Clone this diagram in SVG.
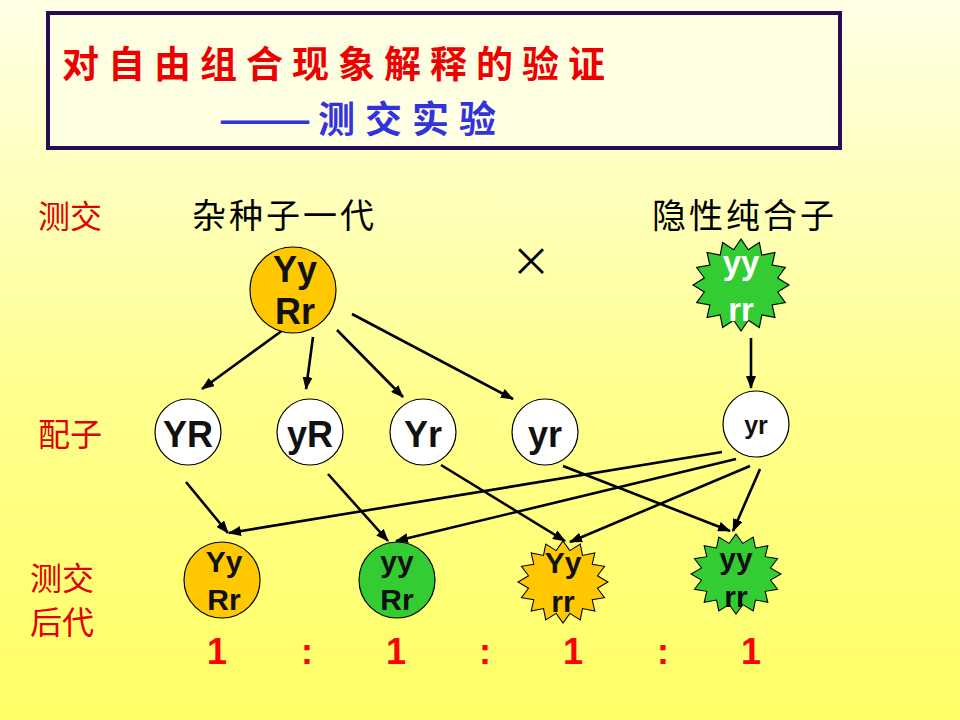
<svg xmlns="http://www.w3.org/2000/svg" xmlns:xlink="http://www.w3.org/1999/xlink" width="960" height="720" viewBox="0 0 960 720">
<defs>
<linearGradient id="bg" x1="0" y1="0" x2="0" y2="1">
<stop offset="0" stop-color="#FFFFE6"/>
<stop offset="0.55" stop-color="#FFFF8E"/>
<stop offset="1" stop-color="#FFFF66"/>
</linearGradient>
<marker id="ah" markerUnits="userSpaceOnUse" markerWidth="13" markerHeight="10" refX="12" refY="5" orient="auto">
<path d="M0,0 L13,5 L0,10 z" fill="#000"/>
</marker>
<polygon id="star" points="0,-100 15.2,-76.5 38.27,-92.39 43.3,-64.9 70.71,-70.71 64.9,-43.3 92.39,-38.27 76.5,-15.2 100,0 76.5,15.2 92.39,38.27 64.9,43.3 70.71,70.71 43.3,64.9 38.27,92.39 15.2,76.5 0,100 -15.2,76.5 -38.27,92.39 -43.3,64.9 -70.71,70.71 -64.9,43.3 -92.39,38.27 -76.5,15.2 -100,0 -76.5,-15.2 -92.39,-38.27 -64.9,-43.3 -70.71,-70.71 -43.3,-64.9 -38.27,-92.39 -15.2,-76.5"/>
</defs>
<style>
.cjk{font-family:"Noto Sans CJK SC","Noto Sans CJK JP",sans-serif;}
.lbl{font-family:"Noto Sans CJK SC",sans-serif;font-size:32px;fill:#E00000;}
.blk{font-family:"Noto Sans CJK SC",sans-serif;font-size:34px;fill:#000;letter-spacing:3px;}
.g{font-family:"Liberation Sans",Arial,sans-serif;font-weight:bold;text-anchor:middle;fill:#111;}
.ratio{font-family:"Liberation Sans",Arial,sans-serif;font-weight:bold;font-size:36px;fill:#FF0000;text-anchor:middle;}
.node{stroke:#000;stroke-width:1.2;}
.white{fill:#FFFFFF;}
.gold{fill:#FFC800;}
.green{fill:#33CC33;}
.conn line{stroke:#000;stroke-width:2.6;marker-end:url(#ah);}
</style>
<rect x="0" y="0" width="960" height="720" fill="url(#bg)"/>

<g id="title">
<rect x="48" y="13" width="792" height="135" fill="#FFFFE4" stroke="#2A0A55" stroke-width="4"/>
<text x="62" y="78" class="cjk" font-size="37" font-weight="bold" fill="#EE0000" letter-spacing="9">对自由组合现象解释的验证</text>
<text x="218" y="133" class="cjk" font-size="37" font-weight="bold" fill="#3333DD" textLength="94" lengthAdjust="spacingAndGlyphs">——</text>
<text x="318" y="133" class="cjk" font-size="37" font-weight="bold" fill="#3333DD" letter-spacing="10">测交实验</text>
</g>

<g id="labels">
<text x="38" y="228" class="lbl">测交</text>
<text x="38" y="446" class="lbl">配子</text>
<text x="30" y="590" class="lbl">测交</text>
<text x="30" y="634" class="lbl">后代</text>
<text x="192" y="228" class="blk">杂种子一代</text>
<text x="652" y="228" class="blk">隐性纯合子</text>
<text x="531" y="276" class="cjk" font-size="40" text-anchor="middle" fill="#000">×</text>
</g>

<g id="connectors" class="conn">
<line x1="283" y1="330" x2="202" y2="389"/>
<line x1="313" y1="337" x2="306" y2="389"/>
<line x1="337" y1="330" x2="403" y2="397"/>
<line x1="352" y1="314" x2="513" y2="399"/>
<line x1="751" y1="338" x2="751" y2="388"/>
<line x1="186" y1="482" x2="228" y2="533"/>
<line x1="328" y1="474" x2="388" y2="541"/>
<line x1="441" y1="465" x2="565" y2="541"/>
<line x1="563" y1="466" x2="730" y2="531"/>
<line x1="722" y1="452" x2="229" y2="533"/>
<line x1="736" y1="459" x2="396" y2="541"/>
<line x1="750" y1="466" x2="570" y2="542"/>
<line x1="760" y1="469" x2="733" y2="531"/>
</g>

<g id="parent-YyRr">
<circle cx="293" cy="290" r="43" class="node gold"/>
<text x="295" y="282" class="g" font-size="36">Yy</text>
<text x="295" y="324" class="g" font-size="36">Rr</text>
</g>

<g id="parent-yyrr">
<use xlink:href="#star" transform="translate(741,285) scale(0.48,0.46)" class="green" stroke="#000" stroke-width="2.4"/>
<text x="741" y="274" class="g" font-size="33" style="fill:#FFFFFF">yy</text>
<text x="741" y="321" class="g" font-size="33" style="fill:#FFFFFF">rr</text>
</g>

<g id="gamete-YR">
<circle cx="188" cy="432" r="33" class="node white"/>
<text x="188" y="447" class="g" font-size="36">YR</text>
</g>
<g id="gamete-yR">
<circle cx="310" cy="432" r="33" class="node white"/>
<text x="310" y="447" class="g" font-size="36">yR</text>
</g>
<g id="gamete-Yr">
<circle cx="423" cy="432" r="33" class="node white"/>
<text x="423" y="447" class="g" font-size="36">Yr</text>
</g>
<g id="gamete-yr">
<circle cx="545" cy="432" r="33" class="node white"/>
<text x="545" y="447" class="g" font-size="36">yr</text>
</g>
<g id="gamete-yr2">
<circle cx="756" cy="424" r="33" class="node white"/>
<text x="756" y="434" class="g" font-size="25">yr</text>
</g>

<g id="offspring-YyRr">
<circle cx="222" cy="580" r="38" class="node gold"/>
<text x="224" y="572" class="g" font-size="30">Yy</text>
<text x="224" y="610" class="g" font-size="30">Rr</text>
</g>
<g id="offspring-yyRr">
<circle cx="397" cy="580" r="38" class="node green"/>
<text x="397" y="572" class="g" font-size="30">yy</text>
<text x="397" y="610" class="g" font-size="30">Rr</text>
</g>
<g id="offspring-Yyrr">
<use xlink:href="#star" transform="translate(563,582) scale(0.45,0.41)" class="gold" stroke="#000" stroke-width="2.4"/>
<text x="563" y="573" class="g" font-size="30">Yy</text>
<text x="563" y="612" class="g" font-size="30">rr</text>
</g>
<g id="offspring-yyrr">
<use xlink:href="#star" transform="translate(736,574) scale(0.45,0.40)" class="green" stroke="#000" stroke-width="2.4"/>
<text x="736" y="569" class="g" font-size="30">yy</text>
<text x="736" y="607" class="g" font-size="30">rr</text>
</g>

<g id="ratio">
<text x="217" y="664" class="ratio">1</text>
<text x="307" y="664" class="ratio">:</text>
<text x="396" y="664" class="ratio">1</text>
<text x="485" y="664" class="ratio">:</text>
<text x="573" y="664" class="ratio">1</text>
<text x="663" y="664" class="ratio">:</text>
<text x="751" y="664" class="ratio">1</text>
</g>
</svg>
